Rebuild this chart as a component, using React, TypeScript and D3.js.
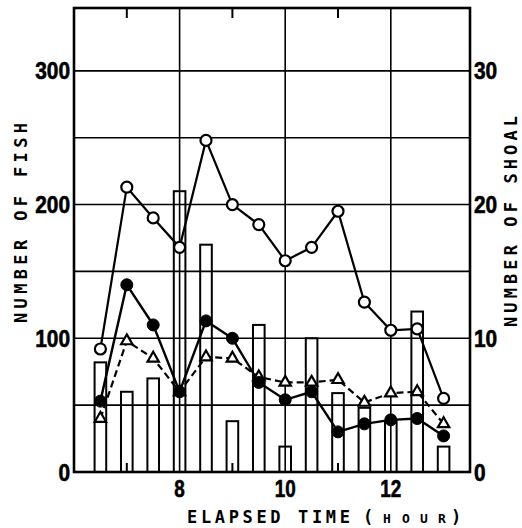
import React from "react";
import * as d3 from "d3";

const hours = [6.5, 7, 7.5, 8, 8.5, 9, 9.5, 10, 10.5, 11, 11.5, 12, 12.5, 13];
const fishOpen = [92, 213, 190, 168, 248, 200, 185, 158, 168, 195, 127, 106, 107, 55];
const fishFilled = [53, 140, 110, 60, 113, 100, 67, 54, 60, 30, 36, 39, 40, 27];
const fishTriangle = [40, 98, 85, 60, 86, 85, 71, 67, 67, 69, 52, 59, 60, 36];
const shoals = [8.2, 6, 7, 21, 17, 3.8, 11, 1.9, 10, 5.9, 4.8, 3.8, 12, 1.9];

const leftTicks = [0, 100, 200, 300];
const rightTicks = [0, 10, 20, 30];
const xLabelTicks = [8, 10, 12];
const xMinorTicks = [7, 9, 11];
const hGrid = [50, 100, 150, 200, 250, 300];

const W = 522;
const H = 528;
const L = 74, R = 470, T = 8, B = 472;

const x = d3.scaleLinear().domain([6, 13.5]).range([L, R]);
const y = d3.scaleLinear().domain([0, 347]).range([B, T]);
const yR = d3.scaleLinear().domain([0, 34.7]).range([B, T]);

const numFont = "'Liberation Sans', Arial, sans-serif";
const titleFont = "'DejaVu Sans Mono', monospace";

export default function App() {
  const pts = (vals: number[]) => hours.map((h, i) => [x(h), y(vals[i])] as [number, number]);
  const line = d3.line<[number, number]>();
  const openPts = pts(fishOpen);
  const filledPts = pts(fishFilled);
  const triPts = pts(fishTriangle);
  const barHalf = (x(6.61) - x(6.39)) / 2;
  const tri = d3.symbol().type(d3.symbolTriangle).size(56)();

  return (
    <svg width={W} height={H} style={{ position: "absolute", left: 0, top: 0, background: "#fff" }}>
      <rect x={0} y={0} width={W} height={H} fill="#fff" />
      {/* bars */}
      {hours.map((h, i) => (
        <rect key={"b" + i} x={x(h) - barHalf} y={yR(shoals[i])} width={barHalf * 2} height={B - yR(shoals[i])}
          fill="none" stroke="#000" strokeWidth={2} />
      ))}
      {/* grid */}
      {hGrid.map((v) => (
        <line key={"h" + v} x1={L} x2={R} y1={y(v)} y2={y(v)} stroke="#000" strokeWidth={1.6} />
      ))}
      {xLabelTicks.map((v) => (
        <line key={"v" + v} x1={x(v)} x2={x(v)} y1={T} y2={B} stroke="#000" strokeWidth={1.6} />
      ))}
      {xMinorTicks.map((v) => (
        <g key={"m" + v}>
          <line x1={x(v)} x2={x(v)} y1={T} y2={T + 10} stroke="#000" strokeWidth={2} />
          <line x1={x(v)} x2={x(v)} y1={B} y2={B - 9} stroke="#000" strokeWidth={2} />
        </g>
      ))}
      {/* frame */}
      <rect x={L} y={T} width={R - L} height={B - T} fill="none" stroke="#000" strokeWidth={2.6} />

      {/* lines */}
      <path d={line(triPts) || ""} fill="none" stroke="#000" strokeWidth={2.2} strokeDasharray="7,4" />
      <path d={line(openPts) || ""} fill="none" stroke="#000" strokeWidth={2.2} />
      <path d={line(filledPts) || ""} fill="none" stroke="#000" strokeWidth={2.4} />
      {triPts.map(([px, py], i) => (
        <path key={"t" + i} d={tri || ""} transform={`translate(${px},${py})`} fill="#fff" stroke="#000" strokeWidth={2.2} />
      ))}
      {openPts.map(([px, py], i) => (
        <circle key={"o" + i} cx={px} cy={py} r={5.5} fill="#fff" stroke="#000" strokeWidth={2.2} />
      ))}
      {filledPts.map(([px, py], i) => (
        <circle key={"f" + i} cx={px} cy={py} r={6} fill="#000" stroke="#000" strokeWidth={1} />
      ))}

      {/* left tick labels */}
      {leftTicks.map((v) => {
        const s = String(v);
        return (
          <text key={"lt" + v} x={70} y={y(v) + 8.5} textAnchor="end" fontFamily={numFont} fontWeight="bold"
            fontSize={23} stroke="#000" strokeWidth={0.6} textLength={s.length * 11.6} lengthAdjust="spacingAndGlyphs">{s}</text>
        );
      })}
      {rightTicks.map((v) => {
        const s = String(v);
        return (
          <text key={"rt" + v} x={474} y={yR(v) + 8.5} textAnchor="start" fontFamily={numFont} fontWeight="bold"
            fontSize={23} stroke="#000" strokeWidth={0.6} textLength={s.length * 11.6} lengthAdjust="spacingAndGlyphs">{s}</text>
        );
      })}
      {xLabelTicks.map((v) => {
        const s = String(v);
        return (
          <text key={"xt" + v} x={x(v)} y={497} textAnchor="middle" fontFamily={numFont} fontWeight="bold"
            fontSize={23} stroke="#000" strokeWidth={0.6} textLength={s.length * 10.5} lengthAdjust="spacingAndGlyphs">{s}</text>
        );
      })}

      {/* x title */}
      <text y={522.5} fontFamily={titleFont} fontWeight="bold" fontSize={17}>
        <tspan x={187} textLength={163} lengthAdjust="spacing">ELAPSED TIME</tspan>
        <tspan x={363}>(</tspan>
        <tspan x={383} fontSize={13}>H</tspan>
        <tspan x={402} fontSize={13}>O</tspan>
        <tspan x={420} fontSize={13}>U</tspan>
        <tspan x={438} fontSize={13}>R</tspan>
        <tspan x={451}>)</tspan>
      </text>
      {/* y titles */}
      <text transform="translate(27,323) rotate(-90)" fontFamily={titleFont} fontWeight="bold" fontSize={17}
        textLength={200} lengthAdjust="spacing">NUMBER OF FISH</text>
      <text transform="translate(517,327) rotate(-90)" fontFamily={titleFont} fontWeight="bold" fontSize={17}
        textLength={211} lengthAdjust="spacing">NUMBER OF SHOAL</text>
    </svg>
  );
}
